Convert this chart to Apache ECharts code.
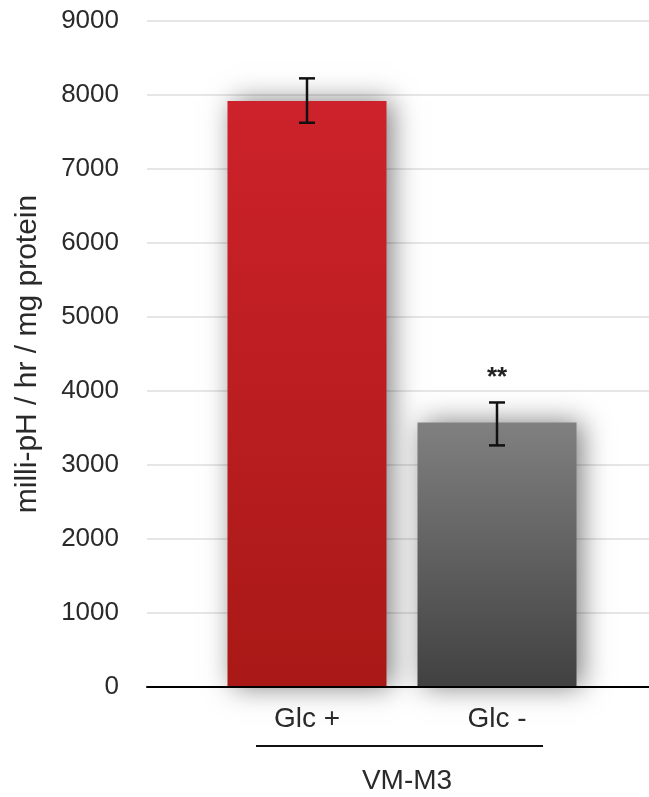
<!DOCTYPE html>
<html>
<head>
<meta charset="utf-8">
<script src="https://cdn.jsdelivr.net/npm/echarts@6/dist/echarts.min.js"></script>
<style>html,body{margin:0;padding:0;background:#fff;}#c{width:649px;height:797px;}</style>
</head>
<body>
<div id="c"></div>
<script>
// ---- data ----
var categories = ['Glc +', 'Glc -'];
var values = [7920, 3575];
var errLow = [7625, 3265];
var errHigh = [8225, 3845];
var significance = ['', '**'];
var yMin = 0, yMax = 9000, yInterval = 1000;
var groupLabel = 'VM-M3';
var yTitle = 'milli-pH / hr / mg protein';

var FONT = '"Liberation Sans", Arial, Helvetica, sans-serif';
var chart = echarts.init(document.getElementById('c'), null, {renderer: 'canvas'});

var gradients = [
  new echarts.graphic.LinearGradient(0, 0, 0, 1, [{offset: 0, color: '#cd222b'}, {offset: 1, color: '#a91916'}]),
  new echarts.graphic.LinearGradient(0, 0, 0, 1, [{offset: 0, color: '#808080'}, {offset: 1, color: '#414141'}])
];

var barData = values.map(function (v, i) {
  return {value: v, itemStyle: {color: gradients[i]}};
});
var errData = categories.map(function (c, i) { return [i, errLow[i], errHigh[i], significance[i]]; });

var option = {
  animation: false,
  backgroundColor: '#fff',
  grid: [
    {left: 147, right: 0, top: 21, bottom: 110, containLabel: false, outerBoundsMode: 'none'},
    {left: 212, right: 57, top: 21, bottom: 110, containLabel: false, outerBoundsMode: 'none'}
  ],
  xAxis: [
    {gridIndex: 0, type: 'category', data: categories, axisLine: {show: true, lineStyle: {color: '#000', width: 2}},
     axisTick: {show: false}, axisLabel: {show: false}, z: 10},
    {gridIndex: 1, type: 'category', data: categories, axisLine: {show: false}, axisTick: {show: false},
     axisLabel: {show: true, margin: 18, fontSize: 28, fontFamily: FONT, color: '#2a2a2a'}}
  ],
  yAxis: [
    {gridIndex: 0, type: 'value', min: yMin, max: yMax, interval: yInterval,
     axisLine: {show: false}, axisTick: {show: false},
     axisLabel: {margin: 28, fontSize: 26, fontFamily: FONT, color: '#2a2a2a',
       formatter: function (v) { return String(v); }},
     splitLine: {show: true, lineStyle: {color: '#e6e6e6', width: 2}},
     name: yTitle, nameLocation: 'middle', nameGap: 104, nameRotate: 90,
     nameTextStyle: {fontSize: 30, fontFamily: FONT, color: '#2a2a2a'}},
    {gridIndex: 1, type: 'value', min: yMin, max: yMax, interval: yInterval,
     axisLine: {show: false}, axisTick: {show: false}, axisLabel: {show: false}, splitLine: {show: false}}
  ],
  series: [
    {type: 'bar', xAxisIndex: 1, yAxisIndex: 1, data: barData, barWidth: 159,
     itemStyle: {shadowBlur: 26, shadowColor: 'rgba(0,0,0,0.5)', shadowOffsetX: 5, shadowOffsetY: 0}},
    {type: 'custom', xAxisIndex: 1, yAxisIndex: 1, data: errData, z: 5,
     renderItem: function (params, api) {
       var x = api.value(0);
       var lo = api.coord([x, api.value(1)]);
       var hi = api.coord([x, api.value(2)]);
       var cap = 8;
       var style = {stroke: '#111', lineWidth: 2.5};
       var children = [
         {type: 'line', shape: {x1: hi[0], y1: hi[1], x2: lo[0], y2: lo[1]}, style: style},
         {type: 'line', shape: {x1: hi[0] - cap, y1: hi[1], x2: hi[0] + cap, y2: hi[1]}, style: style},
         {type: 'line', shape: {x1: lo[0] - cap, y1: lo[1], x2: lo[0] + cap, y2: lo[1]}, style: style}
       ];
       var sig = errData[params.dataIndex][3];
       if (sig) {
         children.push({type: 'text', style: {text: sig, x: hi[0], y: hi[1] - 25, textAlign: 'center', textVerticalAlign: 'middle',
           fontSize: 26, fontWeight: 'bold', fontFamily: FONT, fill: '#222'}});
       }
       return {type: 'group', children: children};
     }}
  ],
  graphic: [
    {type: 'line', shape: {x1: 256, y1: 746, x2: 543, y2: 746}, style: {stroke: '#111', lineWidth: 2}},
    {type: 'text', style: {text: groupLabel, x: 407, y: 781, textAlign: 'center', textVerticalAlign: 'middle',
      fontSize: 28, fontFamily: FONT, fill: '#2a2a2a'}}
  ]
};
chart.setOption(option);
</script>
</body>
</html>
